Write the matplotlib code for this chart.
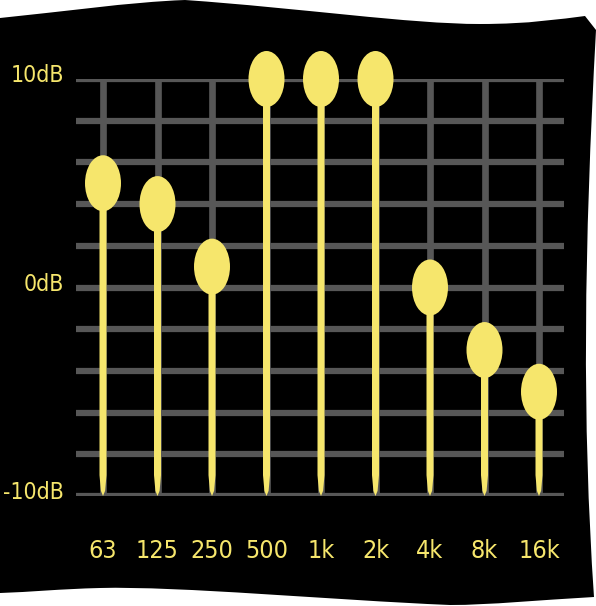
import matplotlib
matplotlib.use("Agg")
import matplotlib.pyplot as plt
from matplotlib.patches import Ellipse, Polygon, PathPatch
from matplotlib.path import Path
import numpy as np

# data
bands = ["63", "125", "250", "500", "1k", "2k", "4k", "8k", "16k"]
gains = [5, 4, 1, 10, 10, 10, 0, -3, -5]
y_ticks = [-10, 0, 10]
y_labels = ["-10dB", "0dB", "10dB"]

yellow = "#F6E66C"
grey = "#575757"
plt.rcParams["font.family"] = ["DejaVu Sans"]
plt.rcParams["font.stretch"] = "condensed"

W, H = 596, 606
fig = plt.figure(figsize=(W / 100, H / 100), dpi=100)
fig.patch.set_facecolor("white")

# wobbly black backdrop, drawn in pixel space
bg = fig.add_axes([0, 0, 1, 1])
bg.set_xlim(0, W)
bg.set_ylim(H, 0)
bg.axis("off")
M, L, C = Path.MOVETO, Path.LINETO, Path.CURVE4
verts = [(0, 18),
         (60, 12), (130, 2), (185, 0),
         (300, 8), (410, 24), (480, 24),
         (530, 24), (560, 19), (585, 16),
         (596, 30),
         (584, 250), (582, 420), (594, 597),
         (540, 600), (490, 605), (450, 605),
         (330, 600), (180, 586), (100, 588),
         (60, 589), (30, 592), (0, 593),
         (0, 18)]
codes = [M, C, C, C, C, C, C, C, C, C, L, C, C, C, C, C, C, C, C, C, C, C, C, L]
bg.add_patch(PathPatch(Path(verts, codes), facecolor="black", edgecolor="none"))

# main axes, laid over the backdrop
left, right = 75.75, 566.25
top, bottom = 79, 496
ax = fig.add_axes([left / W, (H - bottom) / H, (right - left) / W, (bottom - top) / H])
ax.set_xlim(-0.5, len(bands) - 0.5)
ax.set_ylim(-10, 10)
ax.patch.set_alpha(0)
for s in ax.spines.values():
    s.set_visible(False)

x = np.arange(len(bands))
ax.hlines(np.arange(-10, 11, 2), -0.5, len(bands) - 0.5 - 0.04, color=grey, lw=4.5, zorder=1)
ax.vlines(x, -10, 10, color=grey, lw=4.8, zorder=1)

# stems with a pointed foot, then the knobs
hw = 3.5 / 54.5
for xi, g in zip(x, gains):
    pts = [(xi - hw, g), (xi + hw, g), (xi + hw, -9.0), (xi + hw * 0.6, -9.75),
           (xi, -10.0), (xi - hw * 0.6, -9.75), (xi - hw, -9.0)]
    ax.add_patch(Polygon(pts, closed=True, facecolor=yellow, edgecolor="none", zorder=2))
    ax.add_patch(Ellipse((xi, g), 36 / 54.5, 56 / 20.85, facecolor=yellow,
                         edgecolor="none", zorder=3, clip_on=False))

ax.set_xticks(x)
ax.set_xticklabels(bands)
ax.set_yticks([])
for yv, lab in zip(y_ticks, y_labels):
    ax.text(-0.71, yv + 0.15, lab, ha="right", va="center", color=yellow, fontsize=16.5)
ax.tick_params(length=0, colors=yellow, labelsize=18)
ax.tick_params(axis="x", pad=31)

fig.savefig("out.png", dpi=100, facecolor="white")
